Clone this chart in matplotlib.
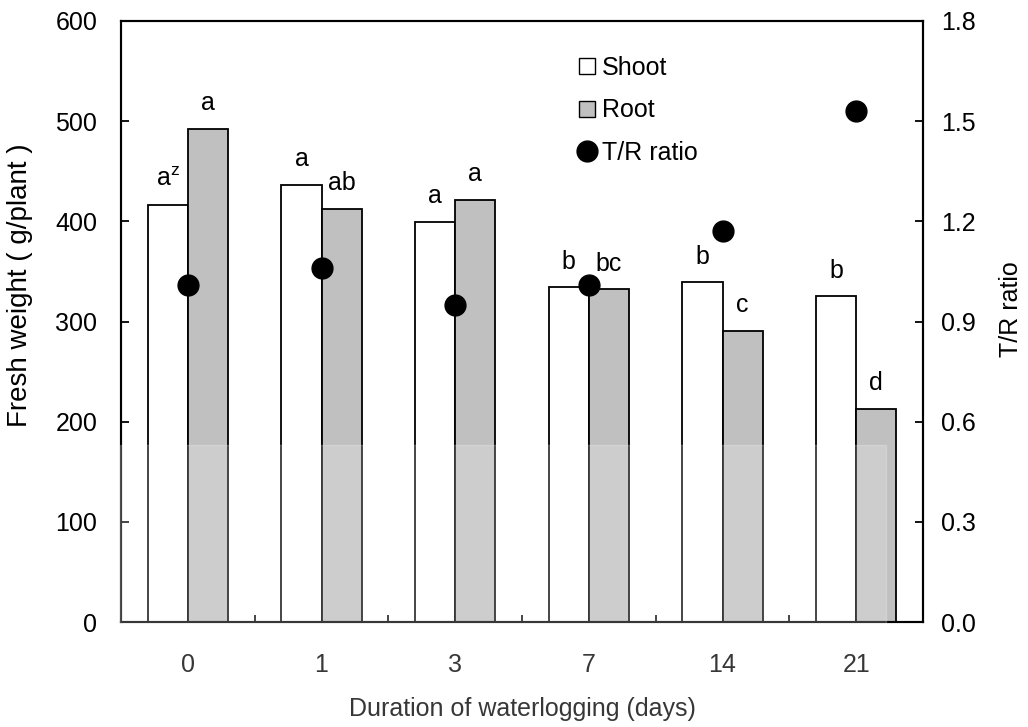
import matplotlib.pyplot as plt
import numpy as np
from matplotlib.lines import Line2D
from matplotlib.patches import Rectangle

plt.rcParams['font.family'] = ['Liberation Sans', 'DejaVu Sans']
plt.rcParams['mathtext.fontset'] = 'custom'
plt.rcParams['mathtext.rm'] = 'Liberation Sans'

# Data
days = ['0', '1', '3', '7', '14', '21']
shoot = [416, 436, 399, 334, 339, 325]
root = [492, 412, 421, 332, 291, 213]
tr_ratio = [1.01, 1.06, 0.95, 1.01, 1.17, 1.53]
shoot_letters = [r'a$^{\mathregular{z}}$', 'a', 'a', 'b', 'b', 'b']
root_letters = ['a', 'ab', 'a', 'bc', 'c', 'd']

fs = 18
fig = plt.figure(figsize=(10.28, 7.27), dpi=100)
ax = fig.add_axes([121 / 1028, 1 - 622 / 727, 802 / 1028, 601 / 727])
x = np.arange(len(days))
w = 0.3

ax.bar(x - w / 2, shoot, w, color='white', edgecolor='black', linewidth=1.3, zorder=2)
ax.bar(x + w / 2, root, w, color='#c0c0c0', edgecolor='black', linewidth=1.3, zorder=2)

# significance letters above each bar
for i in range(len(days)):
    ax.annotate(shoot_letters[i], (x[i] - w / 2, shoot[i]), xytext=(0, 10),
                textcoords='offset points', ha='center', va='bottom', fontsize=fs)
    ax.annotate(root_letters[i], (x[i] + w / 2, root[i]), xytext=(0, 10),
                textcoords='offset points', ha='center', va='bottom', fontsize=fs)

ax.set_xlim(-0.5, len(days) - 0.5)
ax.set_ylim(0, 600)
ax.set_yticks(np.arange(0, 601, 100))
ax.set_xticks(x)
ax.set_xticklabels(days)
ax.set_xticks(np.arange(0.5, len(days) - 1, 1), minor=True)
ax.tick_params(axis='x', which='major', length=0, pad=22, labelsize=fs)
ax.tick_params(axis='x', which='minor', direction='in', length=5, width=1.3)
ax.tick_params(axis='y', direction='in', length=6, width=1.3, labelsize=fs, pad=17)
for s in ax.spines.values():
    s.set_linewidth(1.5)
ax.set_xlabel('Duration of waterlogging (days)', fontsize=fs, labelpad=15)
ax.set_ylabel('Fresh weight ( g/plant )', fontsize=20)
ax.yaxis.set_label_coords(-0.11, 0.56)

ax2 = ax.twinx()
ax2.plot(x, tr_ratio, 'o', color='black', markersize=15, zorder=3)
ax2.set_ylim(0, 1.8)
ax2.set_yticks(np.arange(0, 1.81, 0.3))
ax2.set_yticklabels([f'{v:.1f}' for v in np.arange(0, 1.81, 0.3)])
ax2.tick_params(axis='y', direction='in', length=6, width=1.3, labelsize=fs, pad=13)
ax2.set_ylabel('T/R ratio', fontsize=fs)
ax2.yaxis.set_label_coords(1.095, 0.52)
for s in ax2.spines.values():
    s.set_linewidth(1.5)

handles = [
    Line2D([], [], marker='s', linestyle='none', markerfacecolor='white',
           markeredgecolor='black', markersize=12),
    Line2D([], [], marker='s', linestyle='none', markerfacecolor='#c0c0c0',
           markeredgecolor='black', markersize=12),
    Line2D([], [], marker='o', linestyle='none', color='black', markersize=15),
]
ax2.legend(handles, ['Shoot', 'Root', 'T/R ratio'], loc='upper left',
           bbox_to_anchor=(0.54, 0.98), frameon=False, fontsize=fs,
           handlelength=0.8, handletextpad=0.2, labelspacing=0.75)

# faint watermark wash over the lower part
fig.patches.append(Rectangle((120 / 1028, 0), 766 / 1028, 1 - 445 / 727,
                             transform=fig.transFigure, color='white',
                             alpha=0.22, zorder=10))

fig.savefig('out.png', dpi=100)
